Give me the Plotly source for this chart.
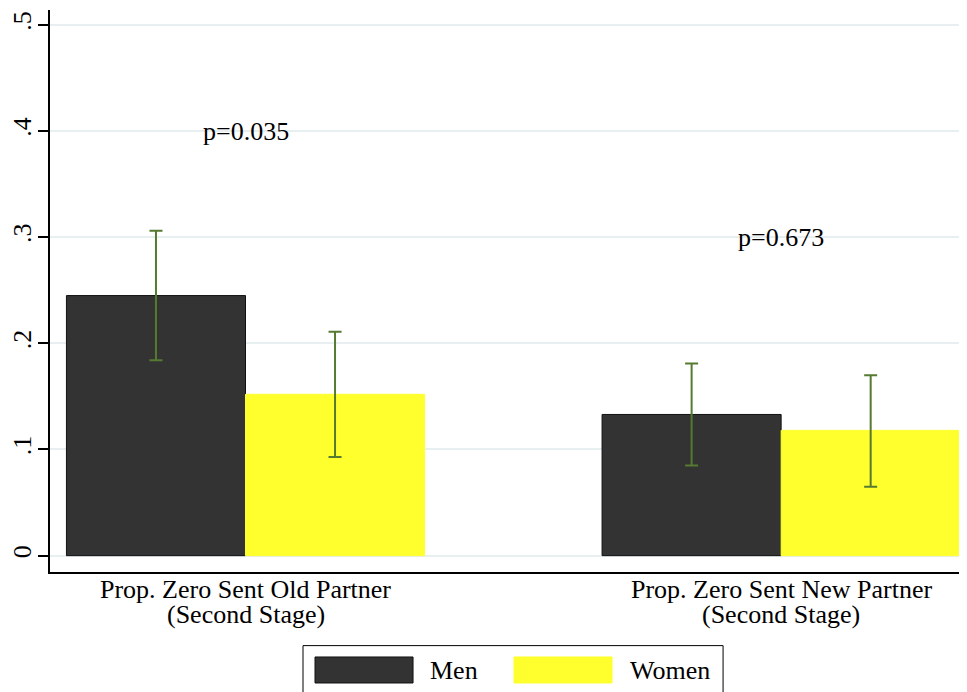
import plotly.graph_objects as go

# ---- data ----
categories = ["Prop. Zero Sent Old Partner<br>(Second Stage)",
              "Prop. Zero Sent New Partner<br>(Second Stage)"]
series_names = ["Men", "Women"]
men_mean = [0.245, 0.133]
men_lo = [0.184, 0.085]
men_hi = [0.306, 0.181]
women_mean = [0.152, 0.118]
women_lo = [0.093, 0.065]
women_hi = [0.211, 0.170]
pvals = ["p=0.035", "p=0.673"]
pval_y = [0.4, 0.3]
y_ticks = [0, 0.1, 0.2, 0.3, 0.4, 0.5]
y_ticktext = ["0", ".1", ".2", ".3", ".4", ".5"]

FONT = "Liberation Serif, Times New Roman, serif"
FS = 26
ERR_COLOR = "#557a30"
COLORS = ["#333333", "#ffff2e"]

xpos = list(range(len(categories)))

fig = go.Figure()
for name, mean, lo, hi, col in [
    (series_names[0], men_mean, men_lo, men_hi, COLORS[0]),
    (series_names[1], women_mean, women_lo, women_hi, COLORS[1]),
]:
    fig.add_trace(go.Bar(
        x=xpos, y=mean, name=name,
        marker=dict(color=col,
                    line=dict(color="#111111" if col == COLORS[0] else col, width=1)),
        error_y=dict(type="data", symmetric=False,
                     array=[h - m for h, m in zip(hi, mean)],
                     arrayminus=[m - l for m, l in zip(mean, lo)],
                     color=ERR_COLOR, thickness=2, width=6.5),
        showlegend=False,
    ))

# p-value annotations
for x, t, y in zip(xpos, pvals, pval_y):
    fig.add_annotation(x=x, y=y, xref="x", yref="y", text=t, showarrow=False,
                       font=dict(family=FONT, size=FS, color="black"),
                       xanchor="center", yanchor="middle")

# category labels (two lines each, tighter spacing like the original)
line_y = [-0.032, -0.0765]
for x, cat in zip(xpos, categories):
    for ly, part in zip(line_y, cat.split("<br>")):
        fig.add_annotation(x=x, y=ly, xref="x", yref="paper", text=part,
                           showarrow=False, xanchor="center", yanchor="middle",
                           font=dict(family=FONT, size=FS, color="black"))

# legend drawn as a framed key below the plot
fig.add_shape(type="rect", xref="paper", yref="paper",
              x0=0.2759, x1=0.734, y0=-0.225, y1=-0.131,
              line=dict(color="black", width=1), fillcolor="white")
sw_x = [(0.2890, 0.3959), (0.5060, 0.6129)]
txt_x = [0.4122, 0.6303]
for (x0, x1), tx, name, col in zip(sw_x, txt_x, series_names, COLORS):
    fig.add_shape(type="rect", xref="paper", yref="paper",
                  x0=x0, x1=x1, y0=-0.1975, y1=-0.1512,
                  line=dict(color="#111111" if col == COLORS[0] else col, width=1),
                  fillcolor=col)
    fig.add_annotation(x=tx, y=-0.1745, xref="paper", yref="paper", text=name,
                       showarrow=False, xanchor="left", yanchor="middle",
                       font=dict(family=FONT, size=FS, color="black"))

fig.update_layout(
    width=959, height=684,
    margin=dict(l=42, r=0, t=2, b=120, autoexpand=False),
    paper_bgcolor="white", plot_bgcolor="white",
    barmode="group", bargap=0.3314, bargroupgap=0,
    font=dict(family=FONT, size=FS, color="black"),
    showlegend=False,
    xaxis=dict(range=[-0.365, 1.347], showticklabels=False, ticks="",
               showgrid=False, zeroline=False, automargin=False,
               showline=True, linecolor="black", linewidth=1.5),
    yaxis=dict(range=[-0.0154, 0.514], tickvals=y_ticks, ticktext=y_ticktext,
               tickangle=-90, ticks="outside", ticklen=10, tickwidth=1.5,
               tickcolor="black", showline=True, linecolor="black", linewidth=1.5,
               showgrid=True, gridcolor="#e8eff1", gridwidth=1.5,
               zeroline=False, ticklabelstandoff=-3, automargin=False,
               tickfont=dict(family=FONT, size=FS, color="black")),
)

fig.write_html("out.html")
